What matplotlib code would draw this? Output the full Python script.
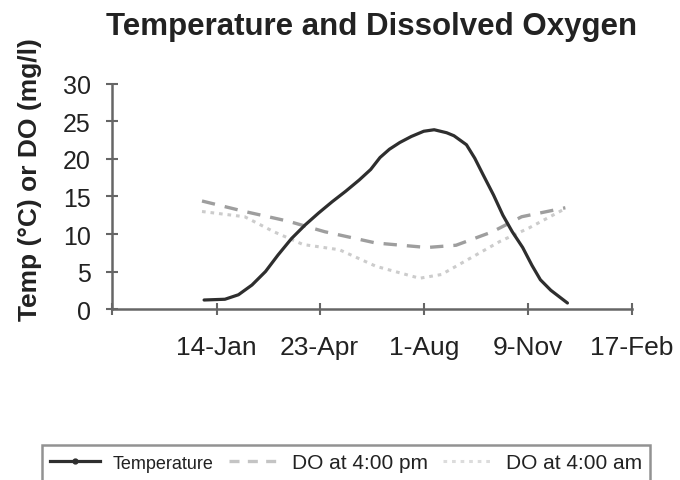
import matplotlib
matplotlib.use("Agg")
import matplotlib.pyplot as plt
from matplotlib.lines import Line2D
from matplotlib import font_manager

plt.rcParams['font.family'] = ['Liberation Sans', 'DejaVu Sans']

# x values: days relative to 14-Jan
tick_days = [0, 99, 199, 299, 399]
tick_labels = ["14-Jan", "23-Apr", "1-Aug", "9-Nov", "17-Feb"]
y_ticks = [0, 5, 10, 15, 20, 25, 30]

temp_days = [-12, 8, 21, 34, 47, 59, 72, 85, 98, 111, 124, 137, 148, 157, 166, 176, 187,
             199, 209, 221, 228, 240, 248, 256, 266, 275, 284, 294, 303, 311, 321, 337]
temp_vals = [1.2, 1.3, 1.9, 3.2, 5.0, 7.2, 9.4, 11.2, 12.8, 14.3, 15.7, 17.2, 18.6, 20.2,
             21.3, 22.2, 23.0, 23.7, 23.9, 23.5, 23.1, 21.9, 20.1, 17.9, 15.2, 12.5, 10.3,
             8.2, 5.8, 3.9, 2.5, 0.8]

do_pm_days = [-14, 27, 69, 104, 153, 202, 230, 265, 293, 335]
do_pm_vals = [14.4, 13.0, 11.7, 10.3, 8.8, 8.2, 8.5, 10.3, 12.3, 13.5]

do_am_days = [-14, 27, 55, 83, 118, 153, 195, 216, 244, 272, 300, 335]
do_am_vals = [13.0, 12.3, 10.3, 8.6, 7.9, 5.7, 4.1, 4.6, 6.8, 9.0, 10.8, 13.4]

legend_labels = ["Temperature", "DO at 4:00 pm", "DO at 4:00 am"]

fig = plt.figure(figsize=(6.8, 4.81), dpi=100)
ax = fig.add_axes([0.1654, 0.3555, 0.764, 0.4678])

ax.plot(do_am_days, do_am_vals, color='#cccccc', lw=2.2, linestyle=(0, (1.2, 1.6)), zorder=2)
ax.plot(do_pm_days, do_pm_vals, color='#9e9e9e', lw=2.4, linestyle=(0, (4, 3)), zorder=3)
ax.plot(temp_days, temp_vals, color='#2e2e2e', lw=2.3, zorder=4,
        solid_capstyle='round', solid_joinstyle='round')

ax.set_xlim(-100, 399)
ax.set_ylim(0, 30)
ax.set_xticks(tick_days)
ax.set_xticklabels(tick_labels)
ax.set_xticks([-100], minor=True)
ax.set_yticks(y_ticks)

for s in ['top', 'right']:
    ax.spines[s].set_visible(False)
for s in ['left', 'bottom']:
    ax.spines[s].set_color('#666666')
    ax.spines[s].set_linewidth(1.8)
    ax.spines[s].set_clip_on(False)

ax.tick_params(axis='both', which='both', direction='inout', length=9, width=1.5,
               color='#666666', labelcolor='#222222')
ax.tick_params(axis='x', labelsize=19, pad=14)
ax.tick_params(axis='y', labelsize=18, pad=11)

fig.text(0.547, 0.944, "Temperature and Dissolved Oxygen", ha='center', va='center',
         fontsize=22.5, fontweight='bold', color='#222222')
fig.text(0.044, 0.627, "Temp (°C) or DO (mg/l)", rotation=90, ha='center', va='center',
         fontsize=19, fontweight='bold', color='#222222')

handles = [
    Line2D([], [], color='#2e2e2e', lw=2.3, marker='o', markersize=3.5),
    Line2D([], [], color='#c4c4c4', lw=2.4, linestyle=(0, (3, 2.5))),
    Line2D([], [], color='#dcdcdc', lw=2.2, linestyle=(0, (1.2, 1.6))),
]
leg = fig.legend(handles, legend_labels, loc='upper left', bbox_to_anchor=(0.0618, 0.0728),
                 borderaxespad=0, ncol=3, frameon=True, fancybox=False, fontsize=15,
                 handlelength=2.4, columnspacing=0.75, handletextpad=0.6, borderpad=0.4)
leg.get_frame().set_edgecolor('#777777')
leg.get_frame().set_linewidth(1.8)
names = {f.name for f in font_manager.fontManager.ttflist}
for t in leg.get_texts():
    t.set_color('#222222')
if 'Liberation Sans Narrow' in names:
    leg.get_texts()[0].set_family(['Liberation Sans Narrow', 'Liberation Sans'])
else:
    leg.get_texts()[0].set_fontsize(13)

fig.savefig("out.png", dpi=100)
